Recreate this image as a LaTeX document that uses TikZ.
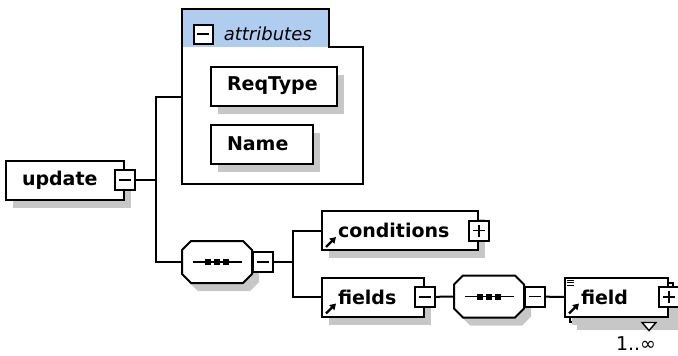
\documentclass[tikz,border=0pt]{standalone}
\usepackage{fontspec}
\setmainfont{DejaVu Sans}
\usetikzlibrary{shapes,arrows.meta,positioning,shadows,calc}
\definecolor{hdrblue}{RGB}{176,204,238}

\begin{document}
\begin{tikzpicture}[x=1pt, y=-1pt, line width=2pt,
    shadowed/.style={drop shadow={shadow xshift=7pt, shadow yshift=-8pt, fill=black!22, opacity=1}},
    elem/.style={rectangle, draw, fill=white, shadowed, font=\bfseries\fontsize{19}{20}\selectfont, align=left, inner xsep=16pt, text width=#1, minimum height=39pt},
    refd/.style={path picture={\draw[line width=2.2pt, -{Triangle[length=6pt, width=7pt]}] ([xshift=4pt, yshift=3pt]path picture bounding box.south west) -- ++(10,-10);}},
    seqbox/.style={rectangle, minimum width=68pt, minimum height=40pt, inner sep=0pt},
    octo/.style={draw, fill=white, shadowed},
    tog/.style={rectangle, draw, fill=white, minimum size=20pt, inner sep=0pt,
        path picture={\draw[line width=1.6pt] ([xshift=-6pt]path picture bounding box.center) -- ++(12,0);}},
    togp/.style={tog, path picture={\draw[line width=1.6pt] ([xshift=-6pt]path picture bounding box.center) -- ++(12,0);
        \draw[line width=1.6pt] ([yshift=-6pt]path picture bounding box.center) -- ++(0,-12);}}]
    \useasboundingbox (0,0) rectangle (678,356);

    \node[elem=86pt] (update) at (65,180) {update};
    \node[tog] (updatem) at (update.east) {};

    \node[minimum width=179pt, minimum height=173pt, inner sep=0pt] (attbox) at (272.5,96.5) {};
    \fill[hdrblue] (attbox.north west) rectangle ++(147,38);
    \draw (attbox.north west) -| ++(147,38) -| (attbox.south east) -- (attbox.south west) -- cycle;
    \node[tog, minimum size=19pt] (attm) at (203,34) {};
    \node[right=6pt of attm, font=\itshape\fontsize{18}{20}\selectfont] (attr) {attributes};
    \node[elem=94pt] (reqtype) at (274,86) {ReqType};
    \node[elem=70pt, below=17pt of reqtype.south west, anchor=north west] (name) {Name};

    \node[seqbox] (seq1) at (217,262) {};
    \node[seqbox] (seq2) at (489,296.5) {};
    \foreach \s in {seq1,seq2} {
        \draw[octo] ([xshift=9pt]\s.north west) -- ([xshift=-9pt]\s.north east) -- ([yshift=-9pt]\s.north east) -- ([yshift=9pt]\s.south east)
            -- ([xshift=-9pt]\s.south east) -- ([xshift=9pt]\s.south west) -- ([yshift=9pt]\s.south west) -- ([yshift=-9pt]\s.north west) -- cycle;
        \draw[line width=1.6pt] ([xshift=-24pt]\s.center) -- ([xshift=25pt]\s.center);
        \foreach \d in {-9,0,9} \fill ([xshift=\d pt]\s.center) +(-3,-3) rectangle +(3,3);
    }
    \node[tog, anchor=west] (seq1m) at (seq1.east) {};
    \node[tog, anchor=west] (seq2m) at (seq2.east) {};

    \node[elem=124pt, refd] (cond) at (400,230.5) {conditions};
    \node[togp] (condp) at (cond.east) {};
    \node[elem=70pt, refd] (fields) at (373,297) {fields};
    \node[tog] (fieldsm) at (fields.east) {};

    \node[elem=71pt] (fieldbk) at (621.5,302) {\phantom{field}};
    \node[elem=71pt, drop shadow={opacity=0},
        path picture={\draw[line width=1pt] ([xshift=2pt, yshift=-2.5pt]path picture bounding box.north west) -- ++(7,0) ++(-7,2.5) -- ++(7,0) ++(-7,2.5) -- ++(7,0);
            \draw[line width=2.2pt, -{Triangle[length=6pt, width=7pt]}] ([xshift=4pt, yshift=3pt]path picture bounding box.south west) -- ++(10,-10);}] (field) at (616.5,297) {field};
    \node[togp] (fieldp) at (field.east) {};
    \draw[fill=white, line width=1.4pt] ([xshift=-32pt]fieldbk.south east) -- ++(14,0) -- ++(-7,8) -- cycle;
    \node[font=\fontsize{19}{20}\selectfont] (mult) at (636,344) {1..∞};

    \coordinate[right=20pt of updatem.east] (fork1);
    \coordinate[right=19pt of seq1m.east] (fork2);
    \draw (updatem) -- (fork1);
    \draw (attbox.west) -| (fork1) |- (seq1.west);
    \draw (seq1m) -- (fork2);
    \draw (cond.west) -| (fork2) |- (fields.west);
    \draw (fieldsm) -- (seq2.west);
    \draw (seq2m) -- (field.west);
\end{tikzpicture}
\end{document}
